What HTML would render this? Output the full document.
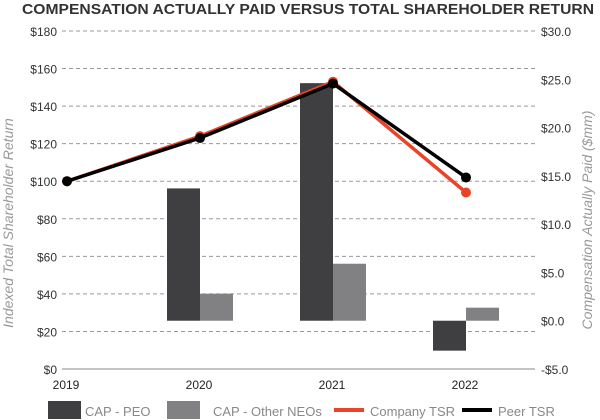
<!DOCTYPE html>
<html><head><meta charset="utf-8"><style>
body{margin:0;background:#fff;}
svg{display:block;font-family:"Liberation Sans",sans-serif;}
</style></head><body>
<svg id="chart" width="600" height="420" viewBox="0 0 600 420">
<text x="308" y="14" text-anchor="middle" font-size="15" font-weight="bold" fill="#333" textLength="572" lengthAdjust="spacingAndGlyphs">COMPENSATION ACTUALLY PAID VERSUS TOTAL SHAREHOLDER RETURN</text>
<text transform="translate(13,223) rotate(-90)" text-anchor="middle" font-size="14" font-style="italic" fill="#999">Indexed Total Shareholder Return</text>
<text transform="translate(592,220) rotate(-90)" text-anchor="middle" font-size="14" font-style="italic" fill="#999">Compensation Actually Paid ($mm)</text>
<g id="grid"></g><g id="bars"></g><g id="lines"></g><g id="legend"></g>
</svg>
<script>
const years=["2019","2020","2021","2022"];
const leftTicks=[0,20,40,60,80,100,120,140,160,180];
const rightTicks=[-5,0,5,10,15,20,25,30];
const capPeo=[null,13.7,24.6,-3.1];
const capNeo=[null,2.8,5.9,1.35];
const companyTsr=[100,124,153,94];
const peerTsr=[100,123,152,102];
const NS="http://www.w3.org/2000/svg";
const X0=62,X1=535,Y0=369,Y1=31;
const yL=v=>Y0-(v-0)/180*(Y0-Y1);
const yR=v=>Y0-(v+5)/35*(Y0-Y1);
const xC=i=>67+i*133;
function mk(tag,attrs,parent,txt){const e=document.createElementNS(NS,tag);for(const k in attrs)e.setAttribute(k,attrs[k]);if(txt!==undefined)e.textContent=txt;parent.appendChild(e);return e;}
const grid=document.getElementById('grid');
leftTicks.forEach(v=>{
  const g=mk('line',{x1:X0,x2:X1,y1:yL(v),y2:yL(v),stroke:v===0?'#888':'#999','stroke-width':1,'stroke-dasharray':v===0?'none':'4,3'},grid);
  
  
  const t=mk('text',{x:57,y:yL(v)+5,'text-anchor':'end','font-size':12,fill:'#333'},grid,'$'+v);
  
  
});
rightTicks.forEach(v=>{
  const t=mk('text',{x:541,y:yR(v)+5,'font-size':12,fill:'#333'},grid,(v<0?'-$'+Math.abs(v).toFixed(1):'$'+v.toFixed(1)));
  
  
});
years.forEach((y,i)=>{
  const t=mk('text',{x:xC(i)-1,y:389,'text-anchor':'middle','font-size':12,fill:'#222'},grid,y);
  
  
});
const bars=document.getElementById('bars');
const BW=33;
years.forEach((y,i)=>{
  if(capPeo[i]!==null){const v=capPeo[i];
    const r=mk('rect',{x:xC(i)-BW,y:Math.min(yR(v),yR(0)),width:BW,height:Math.abs(yR(v)-yR(0)),fill:'#3f3e40'},bars);
    
    }
  if(capNeo[i]!==null){const v=capNeo[i];
    const r=mk('rect',{x:xC(i),y:Math.min(yR(v),yR(0)),width:BW,height:Math.abs(yR(v)-yR(0)),fill:'#818083'},bars);
    
    }
});
const lines=document.getElementById('lines');
[[companyTsr,'#e8442a','company-tsr'],[peerTsr,'#000','peer-tsr']].forEach(([d,c,n])=>{
  const p=mk('polyline',{points:d.map((v,i)=>xC(i)+','+yL(v)).join(' '),fill:'none',stroke:c,'stroke-width':3.5},lines);
  
  
  d.forEach((v,i)=>{const m=mk('circle',{cx:xC(i),cy:yL(v),r:5,fill:c},lines);
    
    });
});
const lg=document.getElementById('legend');
[[48,'#3f3e40','CAP - PEO','rect',85],[167,'#818083','CAP - Other NEOs','rect',213],[334,'#e8442a','Company TSR','line',370],[462,'#000','Peer TSR','line',498]].forEach(([x,c,l,k,tx])=>{
  let s;
  if(k==='rect') s=mk('rect',{x:x,y:401,width:33,height:18,fill:c},lg);
  else s=mk('rect',{x:x,y:408,width:30,height:4,fill:c},lg);
  
  
  const t=mk('text',{x:tx,y:416,'font-size':13,fill:'#888'},lg,l);
  
  
});
</script>
</body></html>
